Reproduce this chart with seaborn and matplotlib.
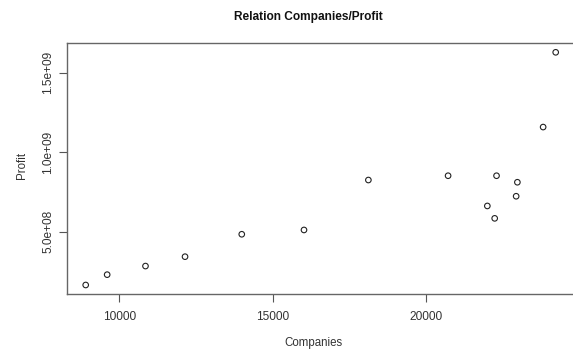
import matplotlib
matplotlib.use("Agg")
import matplotlib.pyplot as plt
import seaborn as sns
import pandas as pd

# Number of companies and total profit per year
companies = [8900, 9600, 10850, 12140, 13990, 16020, 18120, 20720,
             22300, 22980, 22940, 22000, 22240, 23820, 24230]
profit = [1.65e8, 2.30e8, 2.84e8, 3.43e8, 4.84e8, 5.11e8, 8.25e8, 8.52e8,
          8.52e8, 8.11e8, 7.23e8, 6.62e8, 5.84e8, 1.158e9, 1.628e9]

x_ticks = [10000, 15000, 20000]
y_ticks = [5.0e8, 1.0e9, 1.5e9]
y_tick_labels = ["5.0e+08", "1.0e+09", "1.5e+09"]

df = pd.DataFrame({"Companies": companies, "Profit": profit})

sns.set_style("white")
plt.rcParams["font.family"] = ["Liberation Sans", "DejaVu Sans"]

fig = plt.figure(figsize=(5.73, 3.51), dpi=100)
ax = fig.add_axes([66.9 / 573, 1 - 294.3 / 351, (574.5 - 66.9) / 573, (294.3 - 43) / 351])

sns.scatterplot(data=df, x="Companies", y="Profit", ax=ax,
                marker="o", s=16, facecolor="none", edgecolor="#222222", linewidth=0.8)

# R-style 4% padding around the data range
xr = max(companies) - min(companies)
yr = max(profit) - min(profit)
ax.set_xlim(min(companies) - 0.04 * xr, max(companies) + 0.04 * xr)
ax.set_ylim(min(profit) - 0.04 * yr, max(profit) + 0.04 * yr)

ax.set_xticks(x_ticks)
ax.set_xticklabels([str(t) for t in x_ticks], fontsize=8.6, color="#333333")
ax.set_yticks(y_ticks)
ax.set_yticklabels(y_tick_labels, fontsize=8.6, color="#333333", rotation=90, va="center")
ax.tick_params(axis="both", which="major", bottom=True, left=True, direction="out",
               length=6, width=0.8, color="#555555")
ax.tick_params(axis="x", pad=6)
ax.tick_params(axis="y", pad=3)

for sp in ax.spines.values():
    sp.set_visible(True)
    sp.set_color("#666666")
    sp.set_linewidth(1.0)

ax.set_xlabel("")
ax.set_ylabel("")
fig.text(313 / 573, 1 - 343 / 351, "Companies", ha="center", va="center",
         fontsize=8.3, color="#333333")
fig.text(22 / 573, 1 - 165 / 351, "Profit", ha="center", va="center",
         rotation=90, fontsize=8.3, color="#333333")
fig.text(308 / 573, 1 - 17 / 351, "Relation Companies/Profit", ha="center", va="center",
         fontsize=8.6, fontweight="bold", color="#111111")

fig.savefig("out.png", dpi=100)
